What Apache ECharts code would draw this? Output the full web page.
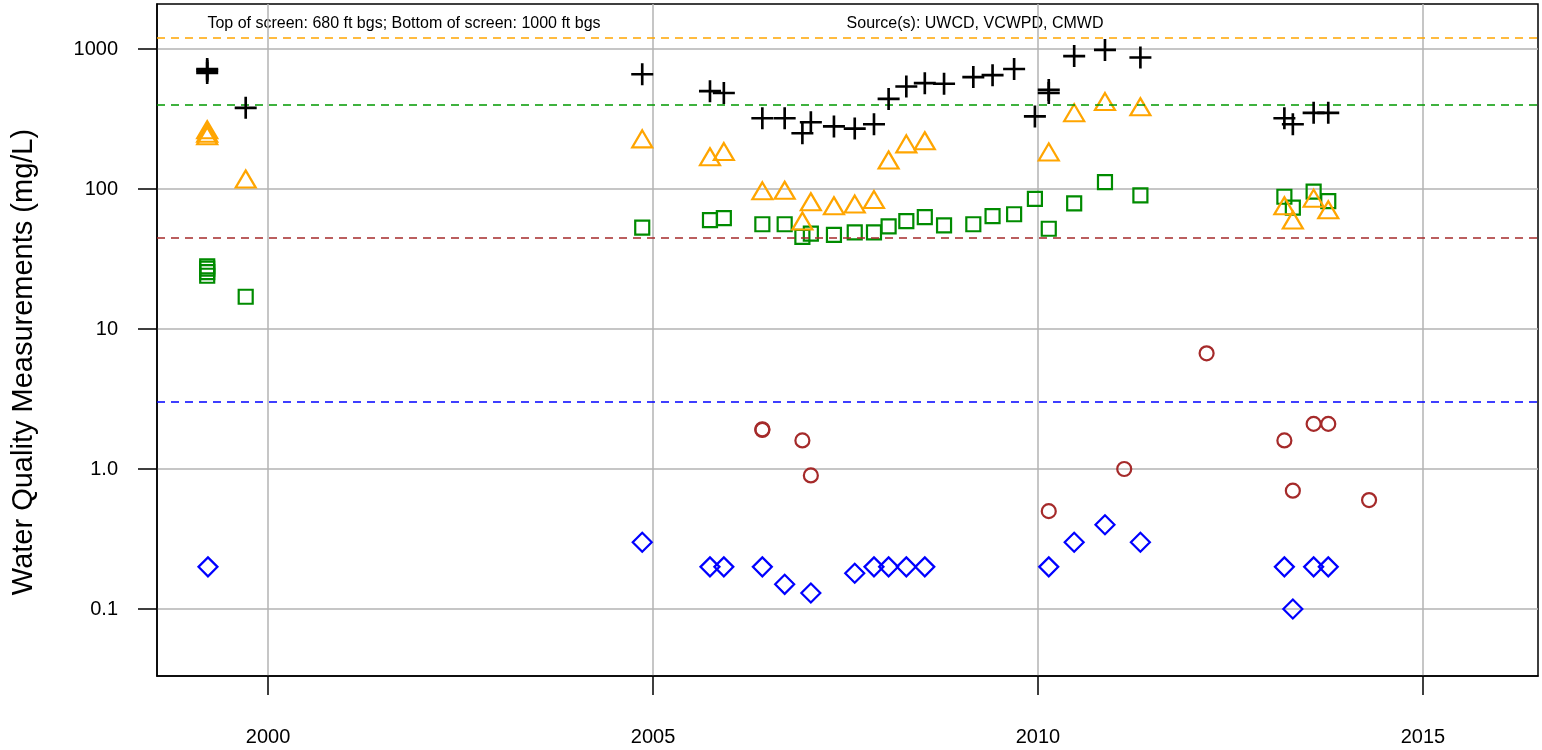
<!DOCTYPE html>
<html>
<head>
<meta charset="utf-8">
<script src="https://cdn.jsdelivr.net/npm/echarts@6/dist/echarts.min.js"></script>
<style>
  html, body { margin: 0; padding: 0; background: #fff; }
  #chart { width: 1542px; height: 750px; }
</style>
</head>
<body>
<div id="chart"></div>
<script>
// ---- Data (decimal years, mg/L) ----
const xTicks = [2000, 2005, 2010, 2015];
const yTicks = [0.1, 1, 10, 100, 1000];

const plusDates = [1999.21, 1999.21, 1999.21, 1999.71, 2004.86, 2005.74, 2005.92, 2006.42, 2006.71, 2006.94,
  2007.05, 2007.35, 2007.62, 2007.87, 2008.06, 2008.29, 2008.53, 2008.78, 2009.16, 2009.41,
  2009.69, 2009.96, 2010.14, 2010.14, 2010.47, 2010.87, 2011.33, 2013.20, 2013.31, 2013.58, 2013.77];
const plusValues = [720, 700, 675, 380, 660, 500, 485, 320, 320, 250,
  300, 280, 270, 290, 440, 540, 570, 565, 630, 650,
  720, 330, 510, 485, 890, 985, 870, 320, 290, 350, 350];

const triDates = [1999.21, 1999.21, 1999.21, 1999.71, 2004.86, 2005.74, 2005.92, 2006.42, 2006.71, 2006.94,
  2007.05, 2007.35, 2007.62, 2007.87, 2008.06, 2008.29, 2008.53, 2010.14, 2010.47, 2010.87,
  2011.33, 2013.20, 2013.31, 2013.58, 2013.77];
const triValues = [265, 250, 240, 118, 228, 170, 185, 97, 98, 59,
  81, 76, 78, 84, 161, 210, 221, 184, 351, 421,
  387, 76, 60, 86, 71];

const sqDates = [1999.21, 1999.21, 1999.21, 1999.21, 1999.71, 2004.86, 2005.74, 2005.92, 2006.42, 2006.71,
  2006.94, 2007.05, 2007.35, 2007.62, 2007.87, 2008.06, 2008.29, 2008.53, 2008.78, 2009.16,
  2009.41, 2009.69, 2009.96, 2010.14, 2010.47, 2010.87, 2011.33, 2013.20, 2013.31, 2013.58, 2013.77];
const sqValues = [28, 27, 25.5, 24, 17, 53, 60, 62, 56, 56,
  45.5, 48, 47, 49, 49, 54, 59, 63, 55, 56,
  64, 66, 85, 52, 79, 112, 90, 88, 73.5, 95.7, 82];

const circDates = [2006.42, 2006.42, 2006.94, 2007.05, 2010.14, 2011.12, 2012.19, 2013.20, 2013.31, 2013.58, 2013.77, 2014.30];
const circValues = [1.9, 1.92, 1.6, 0.9, 0.5, 1.0, 6.7, 1.6, 0.7, 2.1, 2.1, 0.6];

const diaDates = [1999.22, 2004.86, 2005.74, 2005.92, 2006.42, 2006.71, 2007.05, 2007.62, 2007.87, 2008.06,
  2008.29, 2008.53, 2010.14, 2010.47, 2010.87, 2011.33, 2013.20, 2013.31, 2013.58, 2013.77];
const diaValues = [0.2, 0.3, 0.2, 0.2, 0.2, 0.15, 0.13, 0.18, 0.2, 0.2,
  0.2, 0.2, 0.2, 0.3, 0.4, 0.3, 0.2, 0.1, 0.2, 0.2];

const thresholdValues = [1200, 400, 45, 3];
const thresholdColors = ['#FFA500', '#009900', '#A52A2A', '#0000FF'];

const noteLeft = 'Top of screen: 680 ft bgs; Bottom of screen: 1000 ft bgs';
const noteRight = 'Source(s): UWCD, VCWPD, CMWD';
const yTitle = 'Water Quality Measurements (mg/L)';

// ---- helpers ----
function zip(xs, ys) { return xs.map((x, i) => [x, ys[i]]); }
const FONT = 'Liberation Sans, Arial, Helvetica, sans-serif';

function hollow(color) {
  return { color: 'rgba(0,0,0,0)', borderColor: color, borderWidth: 2.2, opacity: 1 };
}

const chart = echarts.init(document.getElementById('chart'), null, { renderer: 'canvas' });

const option = {
  animation: false,
  backgroundColor: '#ffffff',
  grid: {
    left: 157, top: 4, width: 1381, height: 672,
    show: true, borderColor: '#000', borderWidth: 1.5, backgroundColor: 'transparent'
  },
  xAxis: {
    type: 'value',
    min: 1998.558, max: 2016.494,
    axisLine: { show: true, onZero: false, lineStyle: { color: '#000', width: 1.5 } },
    axisTick: { show: true, length: 19, inside: false, customValues: xTicks, lineStyle: { color: '#000', width: 1.5 } },
    axisLabel: { show: true, customValues: xTicks, margin: 51, fontSize: 20, color: '#000', fontFamily: FONT,
      formatter: v => String(Math.round(v)) },
    splitLine: { show: true, lineStyle: { color: '#b3b3b3', width: 1.5 } }
  },
  yAxis: {
    type: 'log', logBase: 10,
    min: 0.03322, max: 2096,
    axisLine: { show: true, onZero: false, lineStyle: { color: '#000', width: 1.5 } },
    axisTick: { show: true, length: 19, inside: false, customValues: yTicks, lineStyle: { color: '#000', width: 1.5 } },
    axisLabel: { show: true, customValues: yTicks, margin: 39, fontSize: 20, color: '#000', fontFamily: FONT,
      formatter: v => (v < 0.5 ? '0.1' : (v < 5 ? '1.0' : String(Math.round(v)))) },
    splitLine: { show: true, lineStyle: { color: '#b3b3b3', width: 1.5 } }
  },
  graphic: [
    { type: 'text', x: 404, y: 24, silent: true,
      style: { text: noteLeft, font: '16px ' + FONT, fill: '#000', textAlign: 'center', textVerticalAlign: 'middle' } },
    { type: 'text', x: 975, y: 24, silent: true,
      style: { text: noteRight, font: '16px ' + FONT, fill: '#000', textAlign: 'center', textVerticalAlign: 'middle' } },
    { type: 'text', x: 24, y: 362, rotation: Math.PI / 2, silent: true,
      style: { text: yTitle, font: '29px ' + FONT, fill: '#000', textAlign: 'center', textVerticalAlign: 'middle' } }
  ],
  series: [
    {
      name: 'plus', type: 'scatter', data: zip(plusDates, plusValues),
      symbol: 'path://M8.8,0H11.2V8.8H20V11.2H11.2V20H8.8V11.2H0V8.8H8.8Z', symbolSize: 22,
      itemStyle: { color: '#000', opacity: 1 }, silent: true, z: 5
    },
    {
      name: 'triangle', type: 'scatter', data: zip(triDates, triValues),
      symbol: 'triangle', symbolSize: [20, 17],
      itemStyle: hollow('#FFA500'), silent: true, z: 4
    },
    {
      name: 'square', type: 'scatter', data: zip(sqDates, sqValues),
      symbol: 'rect', symbolSize: 14,
      itemStyle: hollow('#008B00'), silent: true, z: 3
    },
    {
      name: 'circle', type: 'scatter', data: zip(circDates, circValues),
      symbol: 'circle', symbolSize: 14,
      itemStyle: hollow('#A52A2A'), silent: true, z: 3
    },
    {
      name: 'diamond', type: 'scatter', data: zip(diaDates, diaValues),
      symbol: 'diamond', symbolSize: 19,
      itemStyle: hollow('#0000FF'), silent: true, z: 3,
      markLine: {
        silent: true, symbol: 'none', animation: false,
        label: { show: false },
        emphasis: { disabled: true },
        data: thresholdValues.map((v, i) => ({
          yAxis: v,
          lineStyle: { color: thresholdColors[i], type: [8, 6], width: 1.6 }
        }))
      }
    }
  ]
};

chart.setOption(option);
</script>
</body>
</html>
